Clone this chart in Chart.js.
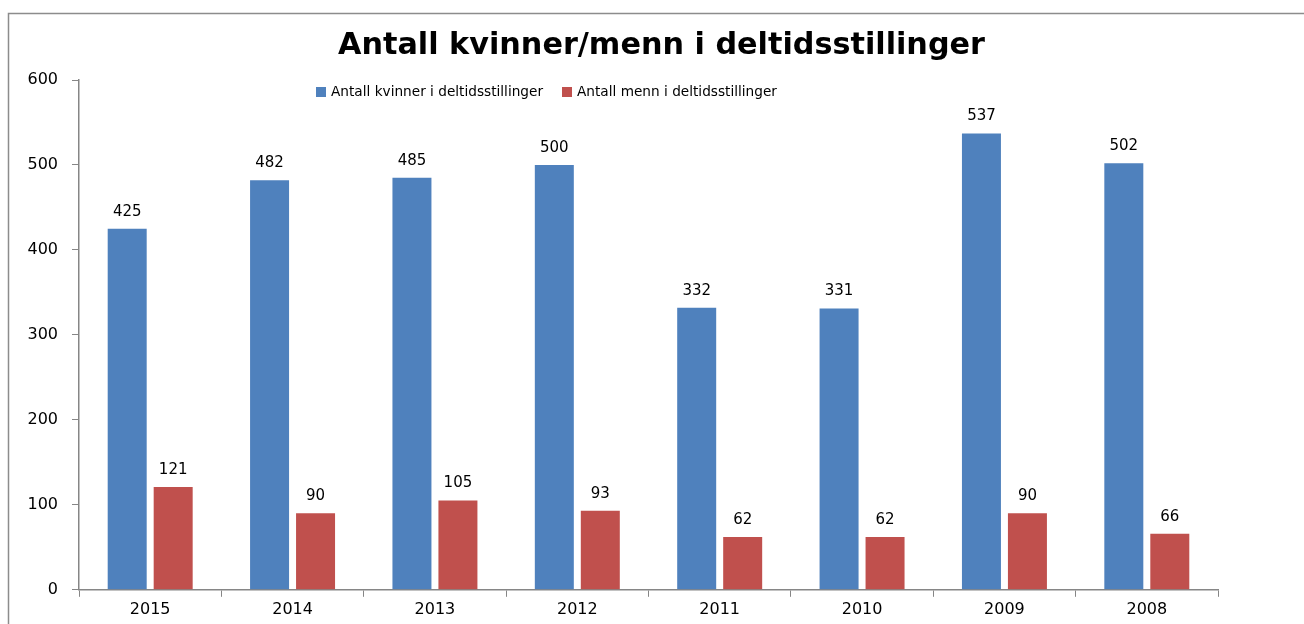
<!DOCTYPE html>
<html><head><meta charset="utf-8">
<script src="https://cdn.jsdelivr.net/npm/chart.js@4/dist/chart.umd.min.js"></script>
<style>html,body{margin:0;padding:0;background:#fff;}#wrap{width:1304px;height:624px;position:relative;}</style>
</head><body><div id="wrap"><canvas id="c" width="1304" height="624"></canvas></div>
<script>
const title = "Antall kvinner/menn i deltidsstillinger";
const categories = ["2015","2014","2013","2012","2011","2010","2009","2008"];
const seriesNames = ["Antall kvinner i deltidsstillinger","Antall menn i deltidsstillinger"];
const kvinner = [425,482,485,500,332,331,537,502];
const menn = [121,90,105,93,62,62,90,66];
const yTicks = [0,100,200,300,400,500,600];
const colors = ["#4F81BD","#C0504D"];
const FONT = "'DejaVu Sans', sans-serif";
const axisColor = "#868686";

function fitFont(ctx, text, weight, target) {
  let size = 20;
  ctx.font = weight + " " + size + "px " + FONT;
  const w = ctx.measureText(text).width;
  size = size * target / w;
  ctx.font = weight + " " + size.toFixed(2) + "px " + FONT;
  return size;
}

const decor = {
  id: 'decor',
  beforeDraw(chart) {
    const ctx = chart.ctx;
    ctx.save();
    ctx.fillStyle = '#fff';
    ctx.fillRect(0,0,chart.width,chart.height);
    ctx.strokeStyle = '#8c8c8c';
    ctx.lineWidth = 1.5;
    ctx.strokeRect(8.5, 13.5, 1400, 700);
    ctx.restore();
  },
  afterDraw(chart) {
    const ctx = chart.ctx;
    ctx.save();
    // title
    ctx.fillStyle = '#000';
    fitFont(ctx, title, 'bold', 647);
    ctx.textAlign = 'center';
    ctx.textBaseline = 'middle';
    ctx.fillText(title, 661.5, 46);
    // legend
    fitFont(ctx, seriesNames[0], 'normal', 212);
    ctx.textAlign = 'left';
    const legendX = [316, 562];
    seriesNames.forEach((n, i) => {
      const x = legendX[i];
      ctx.fillStyle = colors[i];
      ctx.fillRect(x, 87, 10, 10);
      ctx.fillStyle = '#000';
      ctx.fillText(n, x + 15, 92);
    });
    // data labels
    ctx.font = "15px " + FONT;
    ctx.textAlign = 'center';
    ctx.textBaseline = 'middle';
    chart.data.datasets.forEach((ds, i) => {
      const meta = chart.getDatasetMeta(i);
      meta.data.forEach((bar, j) => {
        ctx.fillStyle = '#000';
        ctx.fillText(String(ds.data[j]), bar.x, bar.y - 17);
      });
    });
    ctx.restore();
  }
};

new Chart(document.getElementById('c'), {
  type: 'bar',
  data: {
    labels: categories,
    datasets: [
      { label: seriesNames[0], data: kvinner, backgroundColor: colors[0], categoryPercentage: 0.646, barPercentage: 0.848 },
      { label: seriesNames[1], data: menn, backgroundColor: colors[1], categoryPercentage: 0.646, barPercentage: 0.848 }
    ]
  },
  options: {
    responsive: false,
    animation: false,
    layout: { padding: { left: 8, right: 86, top: 80, bottom: 2 } },
    plugins: { legend: { display: false }, title: { display: false }, tooltip: { enabled: false } },
    scales: {
      x: {
        grid: { display: true, drawOnChartArea: false, drawTicks: true, tickLength: 7, color: axisColor, offset: true },
        border: { display: true, color: axisColor, width: 1.5 },
        ticks: { color: '#000', font: { family: FONT, size: 16 }, padding: 3 }
      },
      y: {
        min: 0, max: 600,
        afterBuildTicks: s => { s.ticks = yTicks.map(v => ({ value: v })); },
        afterFit: s => { s.width = 71; },
        grid: { display: true, drawOnChartArea: false, drawTicks: true, tickLength: 7, color: axisColor },
        border: { display: true, color: axisColor, width: 1.5 },
        ticks: { color: '#000', font: { family: FONT, size: 16 }, padding: 14 }
      }
    }
  },
  plugins: [decor]
});
</script></body></html>
